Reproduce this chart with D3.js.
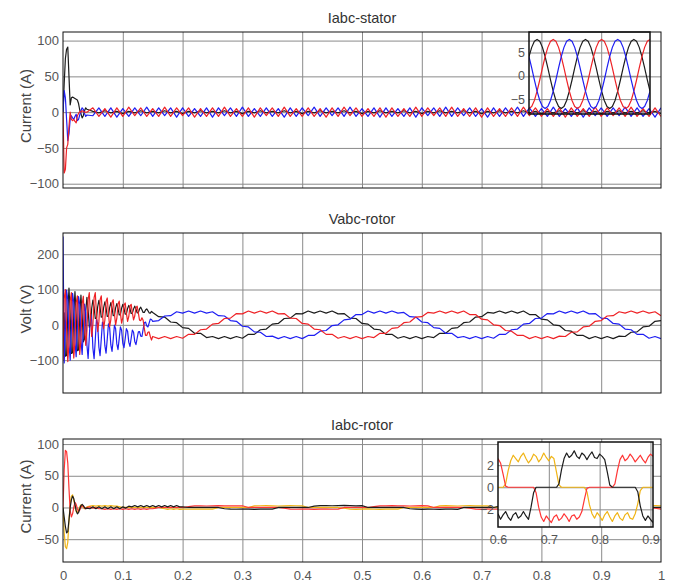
<!DOCTYPE html>
<html>
<head>
<meta charset="utf-8">
<script src="https://cdnjs.cloudflare.com/ajax/libs/d3/7.8.5/d3.min.js"></script>
<style>
  body { margin: 0; background: #fff; }
  svg { display: block; }
  text { font-family: "Liberation Sans", Arial, sans-serif; }
</style>
</head>
<body>
<svg width="675" height="587"></svg>
<script>
// ---- shared axis values ----
const xTickValues = [0, 0.1, 0.2, 0.3, 0.4, 0.5, 0.6, 0.7, 0.8, 0.9, 1];
const statorTicks = [-100, -50, 0, 50, 100];
const voltTicks = [-100, 0, 100, 200];
const rotorTicks = [-50, 0, 50, 100];

// ---- Iabc-stator (A): start-up 0..0.04 s every 2 ms, then 0.05..1 s every 10 ms ----
const statorBlackStart = [0, 40, 75, 88, 91, 50, 10, 20, 21, 20, 19, 18, 17, 12, 3, -2, -8, -5, 2, 6, 4];
const statorBlueStart = [0, 30, 20, -10, -40, -30, -10, -5, -8, -10, -6, -3, -12, -10, -4, 2, 6, 4, -2, -6, -4];
const statorRedStart = [0, -85, -80, -50, -45, -20, 0, -10, -12, -10, -13, -15, -5, -2, 1, 0, 2, 1, 0, 0, 0];
const statorBlackRun = [1,-1,2,-1,1,-2,1,-1,2,-1, 1,-1,2,-1,1,-2,1,-1,2,-1, 1,-1,2,-1,1,-2,1,-1,2,-1,
  1,-1,2,-1,1,-2,1,-1,2,-1, 1,-1,2,-1,1,-2,1,-1,2,-1, 1,-1,2,-1,1,-2,1,-1,2,-1, 1,-1,2,-1,1,-2,1,-1,2,-1,
  1,-1,2,-1,1,-2,1,-1,2,-1, 1,-1,2,-1,1,-2,1,-1,2,-1, 1,-1,2,-1,1,-2];
const statorRedRun = [6,-6,5,-7,6,-6,7,-5,6,-6, 5,-6,7,-6,6,-5,6,-7,5,-6, 6,-6,7,-6,5,-6,6,-7,6,-5,
  6,-6,7,-6,5,-6,6,-6,5,-7, 6,-6,7,-5,6,-6,5,-6,6,-7, 6,-6,5,-6,7,-6,6,-5,6,-6, 7,-6,5,-6,6,-7,6,-6,5,-6,
  6,-6,7,-5,6,-6,5,-6,6,-7, 6,-6,5,-6,7,-6,6,-5,6,-6, 7,-6,5,-6,6,-6];
const statorBlueRun = [-5,6,-6,6,-7,5,-6,6,-5,7, -6,6,-5,6,-7,6,-6,5,-6,6, -7,6,-5,6,-6,7,-6,5,-6,6,
  -6,5,-7,6,-6,6,-5,7,-6,6, -5,6,-6,7,-6,5,-6,6,-7,6, -6,5,-6,6,-7,6,-5,6,-6,7, -6,6,-5,6,-6,5,-7,6,-6,6,
  -5,7,-6,6,-6,5,-6,7,-6,5, -6,6,-7,6,-5,6,-6,6,-5,7, -6,6,-6,5,-7,6];
// zoom window 0.90..0.95 s
const statorZoomBlack = [4.1,6.1,7.4,7.8,7.4,6.1,4.1,1.7,-0.9,-3.3,-5.3,-6.6,-7.0,-6.6,-5.3,-3.3,-0.9,1.7,
  4.1,6.1,7.4,7.8,7.4,6.1,4.1,1.7,-0.9,-3.3,-5.3,-6.6,-7.0,-6.6,-5.3,-3.3,-0.9,1.7,
  4.1,6.1,7.4,7.8,7.4,6.1,4.1,1.7,-0.9,-3.3];
const statorZoomRed = [-7.0,-6.6,-5.3,-3.3,-0.9,1.7,4.1,6.1,7.4,7.8,7.4,6.1,4.1,1.7,-0.9,-3.3,-5.3,-6.6,
  -7.0,-6.6,-5.3,-3.3,-0.9,1.7,4.1,6.1,7.4,7.8,7.4,6.1,4.1,1.7,-0.9,-3.3,-5.3,-6.6,
  -7.0,-6.6,-5.3,-3.3,-0.9,1.7,4.1,6.1,7.4,7.8];
const statorZoomBlue = [4.1,1.7,-0.9,-3.3,-5.3,-6.6,-7.0,-6.6,-5.3,-3.3,-0.9,1.7,4.1,6.1,7.4,7.8,7.4,6.1,
  4.1,1.7,-0.9,-3.3,-5.3,-6.6,-7.0,-6.6,-5.3,-3.3,-0.9,1.7,4.1,6.1,7.4,7.8,7.4,6.1,
  4.1,1.7,-0.9,-3.3,-5.3,-6.6,-7.0,-6.6,-5.3,-3.3];

// ---- Vabc-rotor (V): 0..0.148 s every 2 ms, then 0.15..1 s every 10 ms ----
const voltBlackStart = [0,34,-89,-87,33,104,32,-81,-79,30, 94,29,-73,-71,27,84,29,-48,-40,37,
  78,42,-7,0,47,70,50,18,19,51, 69,50,22,23,49,65,49,24,25,49, 63,48,26,27,48,60,47,28,29,47,
  58,47,30,31,46,55,46,32,33,45, 53,45,34,35,45,50,43,35,35,42, 45,40,34,33,38];
const voltRedStart = [-100,74,100,-11,-104,-52,68,91,-10,-94, -47,62,82,-9,-84,-42,59,81,4,-58,
  -17,72,91,23,-33,2,77,91,30,-19, 9,71,82,31,-10,13,66,76,32,-5, 15,63,71,32,0,18,59,67,33,5,
  20,56,62,33,10,23,53,58,34,14, 25,49,53,34,13,12,20,13,-11,-30, -30,-21,-20,-33,-43];
const voltBlueStart = [250,-108,-11,98,71,-52,-100,-10,89,64, -47,-90,-9,80,58,-42,-84,-16,59,35,
  -57,-95,-34,32,12,-66,-96,-42,17,2, -63,-87,-41,8,-5,-59,-80,-40,3,-8, -57,-75,-40,-1,-11,-54,-70,-39,-6,-15,
  -52,-65,-39,-11,-18,-49,-61,-38,-15,-21, -47,-56,-38,-20,-19,-32,-33,-13,6,8, -3,-6,5,16,15];
const voltBlackRun = [35,23,22,8,6,-8,-10,-24,-24,-36, -33,-39,-33,-39,-33,-38,-27,-27,-14,-12,
  2,4,18,19,32,31,39,33,39,33, 39,31,32,19,18,4,2,-12,-14,-27, -27,-38,-33,-39,-33,-39,-33,-36,-24,-24,
  -10,-8,6,8,22,23,35,33,39,33, 39,33,39,29,29,16,14,0,-2,-16, -18,-30,-30,-39,-33,-39,-33,-39,-32,-33,
  -21,-20,-6,-4,10,12];
const voltRedRun = [-33,-39,-33,-39,-33,-38,-27,-27,-14,-12, 2,4,18,19,32,31,39,33,39,33,
  39,31,32,19,18,4,2,-12,-14,-27, -27,-38,-33,-39,-33,-39,-33,-36,-24,-24, -10,-8,6,8,22,23,35,33,39,33,
  39,33,39,29,29,16,14,0,-2,-16, -18,-30,-30,-39,-33,-39,-33,-39,-32,-33, -21,-20,-6,-4,10,12,25,26,37,33,
  39,33,39,33,37,26];
const voltBlueRun = [10,12,25,26,37,33,39,33,39,33, 37,26,25,12,10,-4,-6,-20,-21,-33,
  -32,-39,-33,-39,-33,-39,-30,-30,-18,-16, -2,0,14,16,29,29,39,33,39,33, 39,33,35,23,22,8,6,-8,-10,-24,
  -24,-36,-33,-39,-33,-39,-33,-38,-27,-27, -14,-12,2,4,18,19,32,31,39,33, 39,33,39,31,32,19,18,4,2,-12,
  -14,-27,-27,-38,-33,-39];

// ---- Iabc-rotor (A): 0..0.04 s every 2 ms, 0.045..0.195 s every 5 ms, 0.2..1 s every 10 ms ----
const rotorRedStart = [0,60,90,88,70,30,-5,-15,-10,0,8,5,-2,-6,-4,0,3,2,-1,-2,0];
const rotorYellowStart = [0,-40,-62,-65,-55,-20,5,18,20,12,2,-6,-8,-4,1,4,3,0,-2,-1,1];
const rotorBlackStart = [0,-15,-30,-40,-38,-20,0,12,18,14,5,-5,-10,-8,-2,3,5,3,0,-2,-1];
const rotorRedMid = [1,-1,0,-2,-2,-3,-2,-3,-2,-3,-2,-3,-2,-3,-2,-3,-2,-3,-2,-3,-2,-2,-1,0,0,0,0,0,0,0,0];
const rotorYellowMid = [2,3,2,3,2,3,2,3,2,2,1,0,0,0,0,0,0,0,0,0,0,0,0,0,-1,-2,-3,-2,-3,-2,-3];
const rotorBlackMid = [-2,1,-2,1,-2,1,-2,1,-2,1,-2,1,-1,2,1,3,1,3,1,3,1,3,1,3,1,3,1,3,1,3,1];
const rotorRedRun = [0,1.2, 2.5,2.7,2.3,2.6,2.8,2.4,2.6,2.5,2.7, 0,0,0,0,0,0, -1.2,
  -2.6,-2.8,-2.4,-2.6,-2.9,-2.5,-2.7,-2.8,-2.5, 0,0,0,0,0, 1.2, 2.6,2.4,2.8,2.5,2.7,2.3,2.6,2.8,2.5,
  0,0,0,0,0,0, -1.2, -2.7,-3.0,-2.6,-2.8,-2.5,-2.9,-2.7,-2.6,-2.8, 0,0,0,0,0, 1.2,
  2.5,2.8,2.6,2.4,2.7,2.9,2.5,2.6,2.8, 0,0,0,0,0,0, -1.2, -2.5];
const rotorYellowRun = [-2.5,-2.8,-2.6,-2.4,-2.7,-2.5, 0,0,0,0,0,0, 2.4,2.7,2.9,2.5,2.3,2.6,3.0,2.7,2.5,
  0,0,0,0,0,0, -1.2, -2.6,-2.9,-2.5,-2.3,-2.8,-3.0,-2.6,-2.4,-2.7, 0,0,0,0,0,0,
  2.6,2.9,2.5,2.3,2.7,3.0,2.6,2.4,2.7, 0,0,0,0,0,0, -1.2, -2.5,-2.8,-2.6,-2.3,-2.7,-3.0,-2.6,-2.4,-2.8,
  0,0,0,0,0,0, 2.5,2.8,2.6,2.4,2.7,2.9,2.6];
const rotorBlackRun = [1.0, 0,0,0,0,0,0, -2.0, -2.6,-2.8,-2.5,-2.7,-3.0,-2.6,-2.4,-2.7, 0,0,0,0,0,0,
  2.0, 2.8,3.1,2.7,2.9,3.2,2.8,2.6,3.0, 0,0,0,0,0,0,0, -2.0, -2.5,-2.9,-2.6,-2.8,-3.0,-2.5,-2.7,-2.9,
  0,0,0,0,0,0, 2.0, 2.7,3.0,2.6,2.9,3.1,2.8,2.5,2.9, 0,0,0,0,0,0,0, -2.0, -2.6,-2.9,-2.5,-2.8,-3.1,-2.7,-2.4,-2.8,
  0,0,0];
// zoom window 0.600..0.905 s every 5 ms
const rotorZoomYellow = [0,0,0,0.3,1.5,2.4,2.9,2.6,2.3,2.8, 3.1,2.6,2.2,2.5,3.0,2.8,2.3,2.6,3.1,2.7,
  2.4,2.8,2.6,1.4,0.2,0,0,0,0,0, 0,0,0,0,0,-0.4,-1.6,-2.4,-2.8,-2.3, -2.6,-3.0,-2.5,-2.2,-2.7,-3.1,-2.6,-2.3,-2.8,-3.0,
  -2.5,-2.3,-2.8,-2.9,-2.4,-1.5,-0.3,0,0,0, 0,0];
const rotorZoomBlack = [-2.4,-2.9,-2.5,-2.2,-2.7,-3.0,-2.5,-2.3,-2.8,-2.6, -2.2,-2.6,-2.9,-1.8,-0.5,0,0,0,0,0,
  0,0,0,0,0.3,1.6,2.6,3.1,2.7,2.9, 3.3,2.8,2.6,3.1,2.9,2.5,2.9,3.2,2.7,2.6, 3.0,2.8,2.5,1.4,0.2,0,0,0,0,0,
  0,0,0,0,0,-0.4,-1.7,-2.6,-3.0,-2.6, -2.9,-3.2];
const rotorZoomRed = [2.6,2.2,1.2,0.1,0,0,0,0,0,0, 0,0,0,0,0,-0.5,-1.8,-2.7,-3.1,-2.6,
  -2.9,-3.2,-2.7,-2.5,-3.0,-2.8,-2.4,-2.7,-3.1,-2.6, -2.5,-2.9,-2.7,-2.2,-1.1,-0.1,0,0,0,0,
  0,0,0,0,0,0,0.3,1.5,2.5,2.9, 2.4,2.6,3.0,2.7,2.3,2.6,2.9,2.5,2.2,2.7, 3.0,2.8];

// ---- sample times ----
const seq = (t0, dt, n) => Array.from({length: n}, (_, i) => t0 + i * dt);
const tStator = seq(0, 0.002, 21).concat(seq(0.05, 0.01, 96));
const tStatorZoom = seq(0.9, 0.05 / 45, 46);
const tVolt = seq(0, 0.002, 75).concat(seq(0.15, 0.01, 86));
const tRotor = seq(0, 0.002, 21).concat(seq(0.045, 0.005, 31), seq(0.2, 0.01, 81));
const tRotorZoom = seq(0.6, 0.005, 62);
const pairs = (ts, vs) => vs.map((v, i) => [ts[i], v]);

const BLACK = '#1c1c1c', RED = '#ee2226', BLUE = '#1e1ef2', ROTRED = '#ff3535', YELLOW = '#f0b415';

// ---- drawing ----
const svg = d3.select('svg');
const X0 = 63, X1 = 661;
const x = d3.scaleLinear().domain([0, 1]).range([X0, X1]);
const fmt = d3.format('~g');
let clipId = 0;

function styleGrid(g) {
  g.select('.domain').remove();
  g.selectAll('.tick line').attr('stroke', '#8a8a8a').attr('stroke-width', 1);
}

function drawLines(parent, xs, ys, series, box) {
  const id = 'clip' + (clipId++);
  svg.append('clipPath').attr('id', id).append('rect')
    .attr('x', box[0]).attr('y', box[1]).attr('width', box[2] - box[0]).attr('height', box[3] - box[1]);
  const line = d3.line().x(d => xs(d[0])).y(d => ys(d[1]));
  const lg = parent.append('g').attr('clip-path', `url(#${id})`);
  series.forEach(s => lg.append('path')
    .attr('d', line(s.points))
    .attr('fill', 'none')
    .attr('stroke', s.color)
    .attr('stroke-width', 1.2)
    .attr('stroke-linejoin', 'round'));
}

function panel(cfg) {
  const y = d3.scaleLinear().domain(cfg.yDomain).range([cfg.bottom, cfg.top]);
  const g = svg.append('g');
  const h = cfg.bottom - cfg.top;

  g.append('g').attr('transform', `translate(0,${cfg.bottom})`)
    .call(d3.axisBottom(x).tickValues(xTickValues.slice(1, -1)).tickSize(-h).tickFormat(''))
    .call(styleGrid);
  g.append('g').attr('transform', `translate(${X0},0)`)
    .call(d3.axisLeft(y).tickValues(cfg.yTicks).tickSize(-(X1 - X0)).tickFormat(''))
    .call(styleGrid);

  drawLines(g, x, y, cfg.series, [X0, cfg.top, X1, cfg.bottom]);

  g.append('rect').attr('x', X0).attr('y', cfg.top).attr('width', X1 - X0).attr('height', h)
    .attr('fill', 'none').attr('stroke', '#111').attr('stroke-width', 1);

  const ya = g.append('g').attr('transform', `translate(${X0},0)`)
    .call(d3.axisLeft(y).tickValues(cfg.yTicks).tickSize(0).tickPadding(4));
  ya.select('.domain').remove();
  ya.selectAll('text').attr('font-size', 13).attr('fill', '#555').style('font-family', '"Liberation Sans", Arial, sans-serif');

  if (cfg.xLabels) {
    const xa = g.append('g').attr('transform', `translate(0,${cfg.bottom})`)
      .call(d3.axisBottom(x).tickValues(xTickValues).tickSize(0).tickPadding(9).tickFormat(fmt));
    xa.select('.domain').remove();
    xa.selectAll('text').attr('font-size', 13).attr('fill', '#555').style('font-family', '"Liberation Sans", Arial, sans-serif');
  }

  g.append('text').attr('x', (X0 + X1) / 2).attr('y', cfg.top - 9)
    .attr('text-anchor', 'middle').attr('font-size', 14.5).attr('fill', '#333').text(cfg.title);
  g.append('text')
    .attr('transform', `translate(31,${(cfg.top + cfg.bottom) / 2 - 4}) rotate(-90)`)
    .attr('text-anchor', 'middle').attr('font-size', 15).attr('fill', '#444').text(cfg.yLabel);
  return g;
}

function inset(parent, cfg) {
  const [l, t, r, b] = cfg.box;
  const xs = d3.scaleLinear().domain(cfg.xDomain).range([l, r]);
  const ys = d3.scaleLinear().domain(cfg.yDomain).range([b, t]);
  const g = parent.append('g');
  if (cfg.fill) g.append('rect').attr('x', l).attr('y', t).attr('width', r - l).attr('height', b - t).attr('fill', cfg.fill);

  g.append('g').attr('transform', `translate(${l},0)`)
    .call(d3.axisLeft(ys).tickValues(cfg.yTicks).tickSize(-(r - l)).tickFormat(''))
    .call(styleGrid);
  if (cfg.xGrid) {
    g.append('g').attr('transform', `translate(0,${b})`)
      .call(d3.axisBottom(xs).tickValues(cfg.xGrid).tickSize(-(b - t)).tickFormat(''))
      .call(styleGrid);
  }
  drawLines(g, xs, ys, cfg.series, [l, t, r, b]);
  g.append('rect').attr('x', l).attr('y', t).attr('width', r - l).attr('height', b - t)
    .attr('fill', 'none').attr('stroke', '#111').attr('stroke-width', 1.5);

  const ya = g.append('g').attr('transform', `translate(${l},0)`)
    .call(d3.axisLeft(ys).tickValues(cfg.yTicks).tickSize(0).tickPadding(4).tickFormat(fmt));
  ya.select('.domain').remove();
  ya.selectAll('text').attr('font-size', 12.5).attr('fill', '#555').style('font-family', '"Liberation Sans", Arial, sans-serif');
  if (cfg.xTicks) {
    const xa = g.append('g').attr('transform', `translate(0,${b})`)
      .call(d3.axisBottom(xs).tickValues(cfg.xTicks).tickSize(0).tickPadding(8).tickFormat(fmt));
    xa.select('.domain').remove();
    xa.selectAll('text').attr('font-size', 12.5).attr('fill', '#555').style('font-family', '"Liberation Sans", Arial, sans-serif');
  }
}

// Iabc-stator
const p1 = panel({
  top: 32, bottom: 188, yDomain: [-106, 112], yTicks: statorTicks,
  title: 'Iabc-stator', yLabel: 'Current (A)',
  series: [
    {color: BLACK, points: pairs(tStator, statorBlackStart.concat(statorBlackRun))},
    {color: BLUE, points: pairs(tStator, statorBlueStart.concat(statorBlueRun))},
    {color: RED, points: pairs(tStator, statorRedStart.concat(statorRedRun))}
  ]
});
inset(p1, {
  box: [529, 32, 650, 114], xDomain: [0.9, 0.95], yDomain: [-8.2, 9.4], yTicks: [-5, 0, 5],
  series: [
    {color: BLACK, points: pairs(tStatorZoom, statorZoomBlack)},
    {color: RED, points: pairs(tStatorZoom, statorZoomRed)},
    {color: BLUE, points: pairs(tStatorZoom, statorZoomBlue)}
  ]
});

// Vabc-rotor
panel({
  top: 233, bottom: 393, yDomain: [-193, 260], yTicks: voltTicks,
  title: 'Vabc-rotor', yLabel: 'Volt (V)',
  series: [
    {color: BLACK, points: pairs(tVolt, voltBlackStart.concat(voltBlackRun))},
    {color: BLUE, points: pairs(tVolt, voltBlueStart.concat(voltBlueRun))},
    {color: RED, points: pairs(tVolt, voltRedStart.concat(voltRedRun))}
  ]
});

// Iabc-rotor
const p3 = panel({
  top: 439, bottom: 562, yDomain: [-86, 108], yTicks: rotorTicks,
  title: 'Iabc-rotor', yLabel: 'Current (A)', xLabels: true,
  series: [
    {color: YELLOW, points: pairs(tRotor, rotorYellowStart.concat(rotorYellowMid, rotorYellowRun))},
    {color: ROTRED, points: pairs(tRotor, rotorRedStart.concat(rotorRedMid, rotorRedRun))},
    {color: BLACK, points: pairs(tRotor, rotorBlackStart.concat(rotorBlackMid, rotorBlackRun))}
  ]
});
inset(p3, {
  box: [498, 442, 653, 527], xDomain: [0.6, 0.905], yDomain: [-3.6, 4.1], yTicks: [-2, 0, 2],
  fill: '#fff', xGrid: [0.7, 0.8, 0.9], xTicks: [0.6, 0.7, 0.8, 0.9],
  series: [
    {color: YELLOW, points: pairs(tRotorZoom, rotorZoomYellow)},
    {color: ROTRED, points: pairs(tRotorZoom, rotorZoomRed)},
    {color: BLACK, points: pairs(tRotorZoom, rotorZoomBlack)}
  ]
});
</script>
</body>
</html>
